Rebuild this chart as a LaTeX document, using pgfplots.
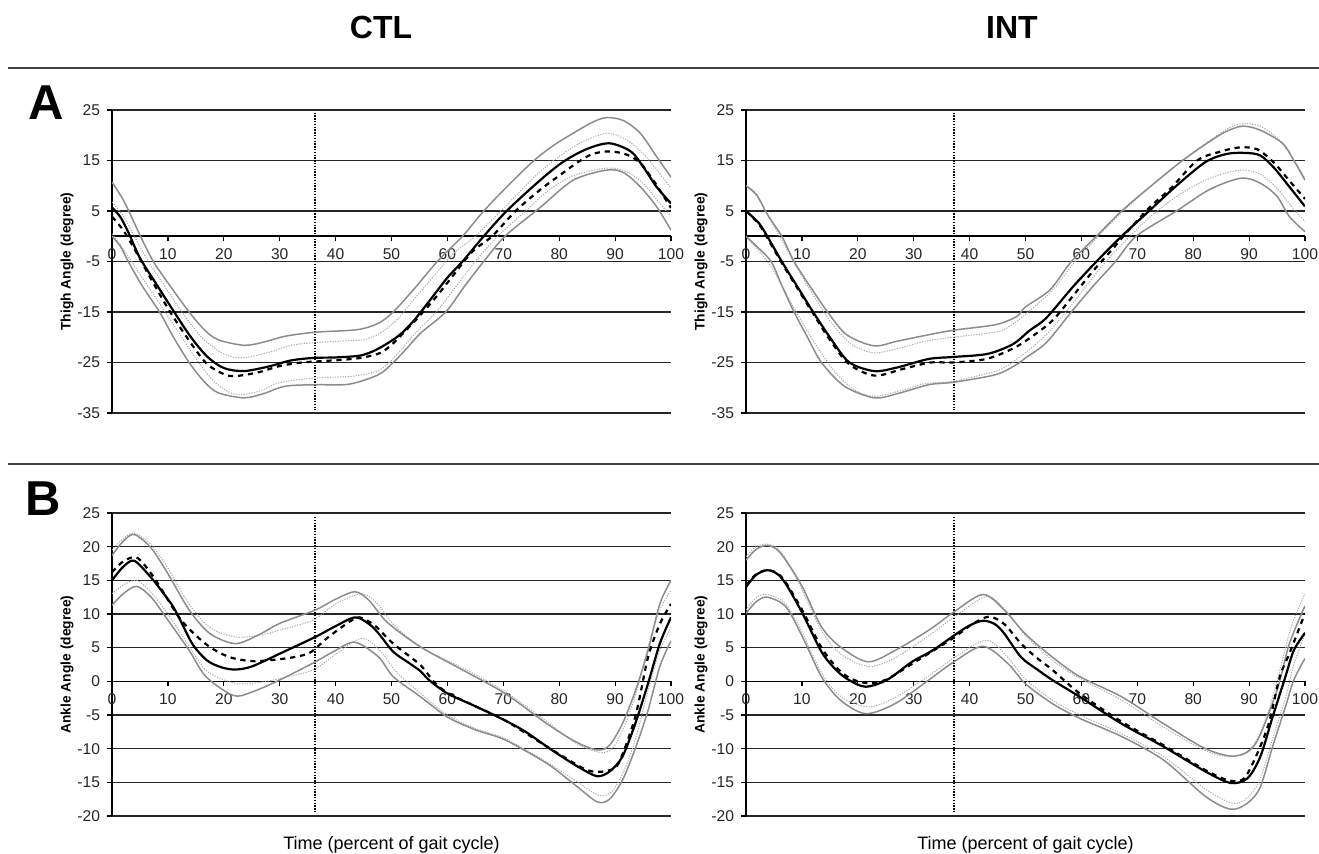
\documentclass[border=0pt]{standalone}
\usepackage{fontspec}
\setmainfont{Liberation Sans}
\usepackage{pgfplots}
\pgfplotsset{compat=1.18}
\definecolor{sdgray}{HTML}{8C8C8C}
\definecolor{sdlight}{HTML}{A8A8A8}

\pgfplotsset{
  gait/.style={
    scale only axis, width=279.5pt, height=151.5pt,
    xmin=0, xmax=100, xtick={0,10,...,100},
    axis y line*=left, axis x line*=middle,
    hide obscured x ticks=false, hide obscured y ticks=false,
    tick align=outside, major tick length=2.5pt,
    ymajorgrids, grid style={black!85, line width=0.75pt},
    axis line style={black, line width=0.75pt},
    tick style={black, line width=0.6pt},
    ticklabel style={font=\fontsize{7.8}{9}\selectfont, text=black!85},
    /pgf/number format/assume math mode=true,
    every axis y label/.style={at={([xshift=-22.5pt]axis description cs:0,0.5)},
      rotate=90, anchor=center, font=\bfseries\fontsize{6.9}{8}\selectfont},
    every axis x label/.style={at={([yshift=-14.5pt]axis description cs:0.5,0)},
      anchor=center, font=\fontsize{9}{10}\selectfont},
  },
  thigh/.style={gait, ymin=-35, ymax=25, ytick={-35,-25,...,25}, ylabel={Thigh Angle (degree)}},
  ankle/.style={gait, ymin=-20, ymax=25, ytick={-20,-15,...,25}, ylabel={Ankle Angle (degree)},
    xlabel={Time (percent of gait cycle)}},
  mean/.style={black, line width=1.1pt, smooth},
  meanB/.style={black, line width=1.1pt, dash pattern=on 2.6pt off 2.4pt, smooth},
  sd/.style={sdgray, line width=0.75pt, smooth},
  sdB/.style={sdlight, line width=0.5pt, dash pattern=on 0.6pt off 0.7pt, smooth},
  stance/.style={black, line width=0.6pt, dash pattern=on 0.7pt off 0.7pt},
}

\begin{document}
\begin{tikzpicture}
\useasboundingbox (0,0) rectangle (659.5pt,427pt);

\node[font=\bfseries\fontsize{16}{18}\selectfont] at (190.5pt,413pt) {CTL};
\node[font=\bfseries\fontsize{16}{18}\selectfont] at (506pt,413pt) {INT};
\draw[black!75, line width=1.1pt] (4pt,393pt) -- (659.5pt,393pt);
\draw[black!75, line width=1.1pt] (4pt,195pt) -- (659.5pt,195pt);
\node[font=\bfseries\fontsize{24.5}{26}\selectfont] at (23pt,375.5pt) {A};
\node[font=\bfseries\fontsize{24.5}{26}\selectfont] at (21.5pt,177.5pt) {B};

% A, CTL
\begin{axis}[thigh, at={(56pt,220.5pt)}, anchor=south west]
\addplot[stance] coordinates {(36.3,24.5) (36.3,-34.5)};
\addplot[sdB] coordinates {(0,6.8) (2,4) (4,0) (6.5,-5) (9.5,-10) (12.5,-15) (16,-20) (19.5,-23) (23,-24.1) (28,-23) (32,-21.6) (36,-21.1) (42,-20.7) (45,-20.5) (48,-19.2) (51,-16.5) (54,-12.5) (57.5,-8) (61,-3.5) (65,0) (70,5.5) (74,10) (76.6,12.8) (80,15.8) (84,18.6) (88.5,20.4) (92,19.1) (95.5,15.8) (100,9.5)};
\addplot[sdB] coordinates {(0,0.5) (2,-2.5) (3.5,-5) (6.5,-10) (9.5,-15) (12.5,-20) (15.5,-25) (18.5,-29) (22,-31.3) (26,-30.8) (30,-29) (36,-28.1) (42,-27.8) (45,-27.4) (48,-26.4) (50.5,-24) (54,-19.5) (58,-15) (61.5,-10) (65,-5) (69,0) (74,5) (78,9) (82.5,12) (88.5,13.5) (92,12.8) (95,10.5) (98,6.5) (100,4)};
\addplot[sd] coordinates {(0,10.7) (1.7,7.8) (3,5) (5.1,0) (7.4,-5) (10.5,-10) (13.8,-15) (16.5,-18.5) (19,-20.5) (23.6,-21.6) (27,-21) (31,-19.8) (36.4,-19.0) (43.9,-18.5) (47.7,-17.2) (50.3,-15) (54,-10.5) (58.2,-5) (62.7,0) (66.5,5) (71,10.2) (75.5,15) (79,18) (82.5,20.4) (86,22.6) (88.5,23.5) (91.5,22.9) (94.5,20.4) (97.4,15.8) (100,11.7)};
\addplot[sd] coordinates {(0,0) (1.5,-2) (2.9,-5) (5.5,-10) (8.5,-15) (11,-20) (13.8,-25) (16.5,-28.8) (19,-31) (23.6,-32) (27,-31.2) (31,-29.7) (36.4,-29.4) (42.4,-29.3) (47.7,-27.4) (50.3,-25) (52.5,-22.5) (55.2,-19.2) (59.7,-15) (63,-10) (66.5,-5) (70.3,0) (76.6,5.7) (82.5,11.1) (88.5,13.1) (91.5,12.6) (94.5,9.8) (97.4,5.9) (100,1.2)};
\addplot[meanB] coordinates {(0,3.9) (2,1.2) (4,-2.5) (7,-8.5) (10.4,-15) (14,-21) (17,-25.3) (20,-27.3) (22,-27.7) (26,-27) (30,-25.7) (34,-25) (38,-24.7) (42,-24.4) (45,-24) (48,-23.1) (50,-21.5) (52,-19.3) (55,-15.8) (58,-12) (61,-7.8) (64.5,-3) (68,0) (72.2,5) (76.6,9.2) (80,12) (83.4,14.7) (86,16.3) (89,16.8) (92,16.2) (94.5,14.5) (97,10.8) (100,5.6)};
\addplot[mean] coordinates {(0,5.7) (1.5,3.8) (3,0.6) (5,-4.3) (8,-9.6) (11,-14.8) (14,-19.8) (17,-23.8) (20,-26.1) (23.6,-26.7) (28,-25.8) (32,-24.6) (36,-24.1) (40,-24.0) (44,-23.7) (46,-23.1) (48.4,-21.8) (51.4,-19.6) (54,-16.7) (57,-12.5) (60,-8.2) (62.7,-5) (66.5,0) (70.6,5) (76.6,11.1) (80.8,14.8) (85,17.3) (89,18.4) (92.8,16.8) (95,13.8) (97.4,9.8) (100,6.5)};
\end{axis}

% A, INT
\begin{axis}[thigh, at={(373pt,220.5pt)}, anchor=south west]
\addplot[stance] coordinates {(37.2,24.5) (37.2,-34.5)};
\addplot[sdB] coordinates {(0,10) (2,7.8) (4.5,3) (7,-2) (9.5,-7) (12.5,-12.5) (15.5,-17.5) (19,-21.5) (23,-23.1) (28,-22) (32,-20.8) (37,-20) (45,-18.9) (48,-17.2) (51,-14.5) (55,-10.5) (58.5,-5.5) (63,0) (67.5,5) (73,10.5) (78,15) (83,19) (86.5,21.5) (89,22.3) (92,21.8) (95,19.5) (97.5,16) (100,11.5)};
\addplot[sdB] coordinates {(0,0) (2,-2.5) (4.5,-6) (7,-11) (9.5,-16) (12.5,-21.5) (16,-27) (19.5,-30.5) (23,-31.7) (28,-30.5) (32,-29.2) (37,-28.7) (45,-26.6) (48.5,-24.3) (52,-21.2) (55,-18) (59,-12.5) (64,-5.5) (68.7,0) (73,4.5) (78,8.6) (83,11.5) (88.4,13.1) (92,12.3) (95,9.5) (97.5,6) (100,2.9)};
\addplot[sd] coordinates {(0,10) (1.9,8.2) (4,4) (6.4,0) (8.6,-5) (11.5,-10) (14.6,-15) (18,-19.5) (22.9,-21.7) (27,-20.8) (32.7,-19.5) (37.2,-18.6) (44.7,-17.5) (48.4,-15.9) (50,-14) (54.4,-10.6) (58.2,-5) (62.7,0) (67.2,5) (72.5,10) (78.1,15) (83,18.8) (86,20.8) (88.9,21.8) (92,21) (96,18.4) (98,15) (100,11.1)};
\addplot[sd] coordinates {(0,0) (1.9,-2) (4.5,-5) (6.5,-10) (8.6,-15) (11,-20) (13.5,-25) (17.6,-29.7) (22.9,-32) (27,-31.2) (32.7,-29.4) (37.2,-28.9) (44.7,-27.4) (48.4,-25.4) (50,-24.1) (53.7,-21.1) (58.2,-15) (62,-10) (66.1,-5) (69.8,0) (77,5) (83,9.3) (88.6,11.5) (92,10.5) (95,7.9) (97.2,3.9) (100,0.9)};
\addplot[meanB] coordinates {(0,5) (2.3,2.4) (3.8,-0.3) (6.4,-5.3) (9.2,-10.3) (12,-15.3) (15,-20.5) (18.4,-25.3) (23,-27.6) (28,-26.3) (33,-25) (37,-25) (43,-24.3) (48,-22.1) (52,-19.2) (55,-16.5) (58,-12.5) (62,-7) (66,-2) (67.5,0) (72,5.5) (76,9.5) (80.7,15) (85,16.8) (88.4,17.6) (91.5,17.2) (94.5,14.5) (97.2,11) (100,7.4)};
\addplot[mean] coordinates {(0,5) (2.3,2.6) (3.8,0) (6.4,-5) (9.2,-10) (12,-15) (15,-20) (18.4,-24.9) (22.9,-26.7) (27,-26) (32.7,-24.3) (37.2,-23.9) (43.2,-23.3) (47.7,-21.4) (50.7,-18.7) (53.7,-16.2) (58.5,-10) (62.7,-5) (67.2,0) (72.1,5) (77,10) (82.2,14.7) (86,16.3) (89.3,16.5) (92,16) (94.5,13.5) (97.2,9.8) (100,5.9)};
\end{axis}

% B, CTL
\begin{axis}[ankle, at={(56pt,19pt)}, anchor=south west]
\addplot[stance] coordinates {(36.3,24.4) (36.3,-19.4)};
\addplot[sdB] coordinates {(0,19.5) (2,21.2) (4,22) (7,20.3) (10,16.8) (13.8,11.5) (17.5,8) (22,6.6) (26,6.8) (30,7.6) (36,9.1) (40,11.5) (44.7,13) (47.5,11.5) (50.5,8.3) (55.5,5) (62.7,2) (70.3,-1.5) (77.8,-6) (83,-9.2) (87,-10.5) (89.5,-10) (92,-6) (94,-1) (96,5.5) (98,10.6) (100,13.5)};
\addplot[sdB] coordinates {(0,13) (2,14.3) (4.4,15) (7,13.2) (10,10) (13.8,5.2) (17,1.5) (22,-0.3) (26,-0.2) (30,0.4) (36,1.7) (40,4) (44.7,6.4) (48,4.5) (51,1.3) (55.5,-2) (60,-5) (65,-7) (70.3,-8.5) (77.8,-12) (83,-14.8) (87,-16.9) (89.5,-16.3) (92,-12.5) (94,-7.5) (96,-1) (98,4.5) (100,8)};
\addplot[sd] coordinates {(0,18.7) (2,20.8) (4,21.8) (7,19.8) (10,16) (13.8,10.6) (17.5,7.1) (22,5.6) (26,6.8) (30,8.6) (36.4,10.6) (40,12.2) (43.5,13.3) (46,12) (49.2,8.8) (55.2,5.1) (62.7,1.7) (70.3,-1.8) (77.8,-6.3) (83,-9) (86.8,-10.2) (89,-9.5) (91.3,-6.3) (93.6,-1.5) (95.9,4.6) (98,11.5) (100,15)};
\addplot[sd] coordinates {(0,11.3) (2,13) (4.4,14.1) (7,12.5) (10,9.1) (13.8,4.6) (16.8,0.7) (21.7,-2.1) (25,-1.6) (30,0.2) (36.4,2.9) (40,4.6) (43.5,5.8) (47.7,3.6) (50.3,0.7) (55.2,-2.3) (60,-5.3) (65,-7.2) (70.3,-8.7) (77.8,-12.2) (83,-15.5) (86.8,-17.9) (89,-17.5) (91.3,-14.7) (93.6,-10) (95.9,-4.3) (98,2.2) (100,6)};
\addplot[meanB] coordinates {(0,16.2) (2,17.8) (4.4,18.4) (7,16) (9.5,12.8) (12,9.5) (14.5,7.2) (17.5,5.1) (21,3.6) (25,3.0) (29,3.2) (32.6,3.6) (35.5,4.3) (38.6,6.5) (42.4,8.8) (44.3,9.5) (47,8.3) (50.3,5.6) (55.2,2.4) (57.5,0) (60,-1.7) (65,-3.7) (70.3,-5.8) (77.8,-9.7) (83.8,-12.7) (86,-13.4) (88.5,-13.3) (90.6,-12.2) (93.6,-5.3) (95.9,3.6) (98,8.5) (100,11.5)};
\addplot[mean] coordinates {(0,15) (2,17) (4,17.9) (7,15.4) (9,13.3) (11,11) (12.5,8.6) (14.5,5.4) (17,3.1) (19.5,2.1) (22,1.75) (25,2.2) (30,4.1) (36.4,6.6) (40,8.2) (43.5,9.5) (46,8.5) (47.7,7.1) (50.3,4.4) (53,2.8) (55.2,1.5) (56.7,0.2) (60,-1.8) (65,-3.7) (70.3,-5.8) (74,-7.5) (77.8,-9.7) (80.5,-11.2) (83.8,-12.9) (86.8,-14.1) (89,-13.4) (91.3,-11.2) (93.6,-6.3) (95.9,-0.3) (98,5.6) (100,9.5)};
\end{axis}

% B, INT
\begin{axis}[ankle, at={(373pt,19pt)}, anchor=south west]
\addplot[stance] coordinates {(37.2,24.4) (37.2,-19.4)};
\addplot[sdB] coordinates {(0,18.5) (1.8,20) (3.75,20.4) (5.5,19.8) (7.1,18.2) (10.1,13.5) (13.5,7.5) (17,4) (22,2.2) (26.7,3.5) (32.7,6.8) (37.2,9.5) (43,12.6) (46.5,10.5) (50,6.8) (55,3) (60,0.3) (67.2,-2.8) (74.7,-6.8) (82.2,-10.3) (87,-11.2) (90.5,-9.8) (93,-5.5) (95,0) (97.5,8) (100,13)};
\addplot[sdB] coordinates {(0,10.6) (1.8,12.4) (3.75,12.9) (7.1,11.5) (10.1,7.2) (13.5,1.3) (17,-2.3) (22,-3.8) (26.7,-2.4) (32.7,0.8) (37.2,3.5) (43,6.1) (46.9,3.5) (50,0.3) (54.8,-2.8) (59.7,-5) (67.2,-7.8) (74.7,-11.2) (82.2,-16) (87,-18.1) (89.7,-17.3) (92,-14.5) (94.2,-8.5) (96.5,-2.5) (98,2.5) (100,7)};
\addplot[sd] coordinates {(0,18) (1.8,19.6) (3.75,20.2) (5.5,19.6) (7.1,18) (10.1,14) (13.5,8.1) (16.9,5.1) (21.8,2.9) (26.7,4.6) (32.7,7.6) (37.2,10.3) (42.4,12.9) (46.2,10.6) (49.9,7.1) (54.8,3.6) (59.7,0.7) (67.2,-2.3) (74.7,-6.3) (82.2,-10) (87.5,-11.1) (91.2,-9.2) (95,-1.3) (97.2,5.6) (100,11.2)};
\addplot[sd] coordinates {(0,10.1) (1.8,11.8) (3.75,12.5) (7.1,11.1) (10.1,6.6) (13.5,0.7) (16.9,-2.8) (21.4,-4.8) (26.7,-3.3) (32.7,0.2) (37.2,2.9) (42.4,5.2) (46.9,2.6) (49.9,-0.3) (54.8,-3.3) (59.7,-5.5) (67.2,-8.2) (74.7,-11.7) (82.2,-17.1) (86.7,-19) (89.7,-18.1) (92,-15.7) (94.2,-9.7) (96.5,-3.8) (98,0.2) (100,3.4)};
\addplot[meanB] coordinates {(0,14.2) (1.8,15.9) (3.75,16.5) (5.5,16.1) (7.1,14.7) (10.1,10.5) (13.5,5) (16.5,1.8) (19,0.3) (22.1,-0.3) (25.2,0.3) (29.7,2.6) (33.4,4.5) (37.2,6.5) (40.5,8.5) (43.5,9.6) (46.2,8.5) (49.2,5.6) (52,3.5) (54.8,1.7) (59.7,-1.8) (67.2,-6) (74.7,-9.5) (82.2,-13.2) (86.3,-14.7) (89,-14.5) (91.2,-11.2) (93.5,-6.3) (95.5,0.7) (97.2,4.1) (100,10.1)};
\addplot[mean] coordinates {(0,14) (1.8,15.8) (3.75,16.5) (5.5,16) (7.1,14.5) (10.1,10.1) (13.5,4.4) (16.1,1.7) (18.4,0.2) (21.4,-0.8) (25.2,0.2) (29.7,2.9) (33.4,4.6) (37.2,6.8) (40,8.3) (42.4,9.0) (44.5,8.5) (46.2,7.1) (49.2,3.6) (52.2,1.7) (54.8,0.2) (59.7,-2.3) (67.2,-6.3) (74.7,-9.7) (82.2,-13.4) (86.7,-15.1) (89.7,-14.4) (92,-11.2) (94.2,-5.3) (96.5,0.7) (98,4.6) (100,7.2)};
\end{axis}
\end{tikzpicture}
\end{document}
